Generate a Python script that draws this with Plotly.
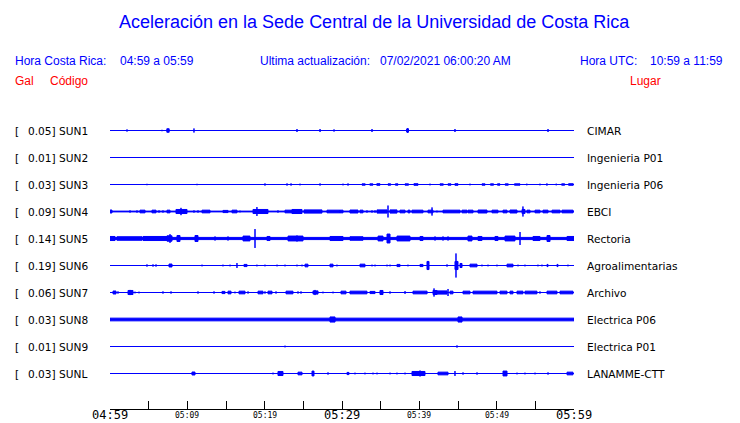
import plotly.graph_objects as go

# ---------------- data ----------------
STATIONS = ["SUN1", "SUN2", "SUN3", "SUN4", "SUN5", "SUN6", "SUN7", "SUN8", "SUN9", "SUNL"]
PEAK_GAL = ["0.05", "0.01", "0.03", "0.09", "0.14", "0.19", "0.06", "0.03", "0.01", "0.03"]
PLACES = ["CIMAR", "Ingenieria P01", "Ingenieria P06", "EBCI", "Rectoria",
          "Agroalimentarias", "Archivo", "Electrica P06", "Electrica P01", "LANAMME-CTT"]
# background noise level of every trace (normalised amplitude)
NOISE = [0, 0, 0, 0.03, 0.08, 0, 0, 0.10, 0, 0]

# minutes after 04:59 (start, end) and normalised half amplitude
SUN1_BURSTS = [(2.2, 2.2, 0.08), (6.72, 6.72, 0.05), (7.35, 7.65, 0.13), (10.86, 10.86, 0.15),
               (24.18, 24.18, 0.11), (27.16, 27.16, 0.11), (28.97, 28.97, 0.08), (33.88, 33.88, 0.11),
               (38.35, 38.6, 0.12), (38.5, 38.5, 0.18), (44.61, 44.61, 0.11), (56.64, 56.64, 0.11)]
SUN2_BURSTS = []
SUN3_BURSTS = [(4.78, 4.78, 0.05), (11.25, 11.25, 0.05), (20.04, 20.04, 0.08), (22.89, 22.89, 0.08),
               (23.41, 23.41, 0.08), (24.57, 24.57, 0.06), (27.16, 27.16, 0.08), (30.13, 30.13, 0.06),
               (30.78, 30.78, 0.08), (32.59, 33.0, 0.05), (33.6, 34.0, 0.05), (34.5, 34.91, 0.06),
               (35.95, 36.3, 0.05), (36.9, 37.24, 0.05), (38.15, 38.6, 0.05), (39.3, 39.83, 0.06),
               (41.38, 41.38, 0.06), (42.67, 43.1, 0.05), (43.7, 44.1, 0.05), (44.6, 45.0, 0.06),
               (46.55, 46.55, 0.06), (48.1, 48.5, 0.05), (49.2, 49.6, 0.05), (50.1, 50.43, 0.05),
               (51.1, 51.5, 0.05), (52.3, 53.02, 0.05), (53.9, 53.9, 0.06), (55.6, 55.6, 0.06),
               (56.5, 56.5, 0.08), (57.7, 57.7, 0.06), (58.4, 58.8, 0.05), (59.3, 59.9, 0.06)]
SUN4_BURSTS = [(0.0, 0.26, 0.11), (2.59, 2.59, 0.08), (3.49, 3.49, 0.08), (3.88, 4.53, 0.1),
               (5.43, 5.95, 0.1), (6.34, 6.34, 0.08), (6.85, 6.85, 0.08), (7.37, 7.76, 0.1),
               (8.53, 9.96, 0.15), (9.18, 9.18, 0.27), (10.86, 10.86, 0.08), (11.38, 11.38, 0.08),
               (11.9, 12.93, 0.1), (14.61, 15.26, 0.08), (15.78, 16.42, 0.1), (16.81, 16.81, 0.06),
               (18.49, 20.43, 0.15), (19.0, 19.0, 0.33), (21.72, 21.72, 0.08), (22.63, 23.53, 0.1),
               (23.53, 24.83, 0.15), (23.66, 23.66, 0.18), (25.09, 27.41, 0.12), (28.06, 29.74, 0.1),
               (29.74, 30.13, 0.1), (31.03, 32.07, 0.11), (32.33, 32.72, 0.1), (33.23, 33.23, 0.08),
               (33.88, 33.88, 0.08), (34.27, 34.27, 0.08), (34.53, 35.82, 0.12), (35.95, 35.95, 0.44),
               (36.21, 37.11, 0.12), (37.5, 38.15, 0.1), (38.53, 38.79, 0.1), (39.05, 40.47, 0.1),
               (41.12, 41.77, 0.1), (41.64, 41.64, 0.3), (42.28, 42.28, 0.06), (43.06, 45.26, 0.1),
               (45.52, 46.16, 0.1), (46.29, 46.94, 0.1), (47.59, 48.75, 0.11), (49.4, 50.17, 0.1),
               (50.82, 51.34, 0.1), (51.72, 52.63, 0.11), (53.28, 53.66, 0.15), (53.4, 53.4, 0.37),
               (53.92, 54.31, 0.1), (54.96, 55.6, 0.1), (55.99, 56.64, 0.1), (57.16, 58.19, 0.1),
               (58.45, 59.87, 0.1)]
SUN5_BURSTS = [(0.0, 0.65, 0.15), (0.9, 4.14, 0.13), (4.27, 7.37, 0.15), (7.37, 8.02, 0.2),
               (7.76, 7.76, 0.32), (8.66, 9.05, 0.22), (10.99, 11.38, 0.22), (13.58, 13.58, 0.15),
               (15.26, 15.26, 0.15), (17.2, 18.1, 0.18), (18.75, 18.75, 0.7), (20.3, 20.69, 0.15),
               (23.02, 24.96, 0.18), (24.18, 24.18, 0.22), (28.45, 29.74, 0.15), (29.74, 30.13, 0.15),
               (31.03, 32.72, 0.13), (34.66, 35.3, 0.18), (35.82, 36.21, 0.33), (37.11, 38.79, 0.18),
               (40.09, 40.47, 0.15), (42.03, 42.03, 0.15), (43.06, 43.06, 0.15), (43.71, 43.71, 0.15),
               (46.29, 46.81, 0.18), (47.59, 48.1, 0.15), (49.78, 50.17, 0.15), (51.08, 52.37, 0.18),
               (53.02, 53.02, 0.48), (54.7, 55.6, 0.15), (56.51, 56.9, 0.22), (59.1, 60.0, 0.15)]
SUN6_BURSTS = [(4.78, 4.78, 0.08), (5.56, 5.56, 0.08), (5.95, 5.95, 0.08), (7.63, 8.02, 0.11),
               (11.9, 11.9, 0.06), (14.61, 14.61, 0.06), (15.52, 15.52, 0.06), (16.42, 16.42, 0.18),
               (17.33, 17.72, 0.08), (19.0, 19.0, 0.06), (20.04, 20.04, 0.06), (21.6, 21.6, 0.06),
               (22.63, 22.63, 0.06), (24.18, 24.18, 0.06), (24.83, 24.83, 0.06), (25.22, 25.6, 0.1),
               (28.45, 28.84, 0.1), (29.35, 29.35, 0.06), (32.33, 32.97, 0.1), (33.88, 33.88, 0.06),
               (34.27, 34.27, 0.06), (35.82, 35.82, 0.06), (36.21, 36.21, 0.06), (37.11, 37.5, 0.08),
               (38.53, 38.53, 0.06), (40.09, 40.47, 0.08), (40.99, 41.25, 0.3), (43.58, 43.58, 0.08),
               (44.61, 45.0, 0.3), (44.74, 44.74, 0.89), (45.26, 45.52, 0.15), (46.55, 47.46, 0.1),
               (48.1, 48.1, 0.06), (48.88, 48.88, 0.06), (50.04, 50.04, 0.06), (51.34, 52.11, 0.1),
               (52.76, 52.76, 0.06), (53.66, 53.66, 0.06), (55.34, 55.34, 0.06), (55.86, 55.86, 0.06),
               (56.51, 56.64, 0.08), (57.8, 57.93, 0.08), (59.22, 59.22, 0.06)]
SUN7_BURSTS = [(0.39, 0.78, 0.11), (1.03, 1.03, 0.08), (2.33, 2.97, 0.15), (2.59, 2.59, 0.19),
               (3.23, 3.23, 0.06), (3.75, 3.75, 0.06), (6.85, 6.85, 0.08), (7.89, 7.89, 0.08),
               (11.38, 11.38, 0.08), (13.45, 13.45, 0.08), (14.48, 14.87, 0.08), (15.26, 15.65, 0.1),
               (16.16, 16.16, 0.06), (16.68, 17.46, 0.1), (17.85, 17.85, 0.08), (19.14, 19.78, 0.1),
               (20.04, 20.04, 0.08), (20.43, 20.95, 0.1), (21.47, 21.47, 0.08), (22.76, 23.66, 0.1),
               (24.31, 24.31, 0.08), (24.7, 24.7, 0.08), (26.25, 26.9, 0.12), (26.51, 26.51, 0.19),
               (27.54, 27.54, 0.06), (28.84, 28.84, 0.06), (29.87, 30.52, 0.1), (31.03, 33.23, 0.1),
               (33.62, 34.27, 0.08), (34.91, 35.3, 0.15), (36.21, 36.21, 0.08), (38.15, 38.15, 0.1),
               (39.18, 41.0, 0.1), (41.77, 42.28, 0.15), (41.9, 41.9, 0.3), (42.28, 43.58, 0.12),
               (43.71, 43.71, 0.26), (43.97, 44.35, 0.1), (45.65, 46.55, 0.1), (46.94, 50.04, 0.1),
               (50.43, 51.34, 0.1), (51.72, 52.11, 0.1), (52.63, 53.4, 0.1), (53.66, 55.21, 0.1),
               (55.6, 55.6, 0.08), (56.51, 57.8, 0.1), (58.19, 59.87, 0.1)]
SUN8_BURSTS = [(28.45, 29.1, 0.19), (45.0, 45.52, 0.19)]
SUN9_BURSTS = [(22.63, 22.63, 0.06), (44.87, 44.87, 0.08)]
SUNL_BURSTS = [(10.6, 10.99, 0.11), (21.08, 21.08, 0.06), (21.72, 22.37, 0.15), (24.31, 24.83, 0.1),
               (26.12, 26.38, 0.18), (28.19, 28.19, 0.08), (30.65, 30.9, 0.08), (31.68, 31.68, 0.06),
               (32.97, 32.97, 0.06), (34.01, 34.01, 0.06), (34.53, 34.53, 0.06), (36.21, 36.21, 0.06),
               (37.11, 37.11, 0.06), (38.15, 38.15, 0.06), (39.05, 40.73, 0.15), (40.09, 40.09, 0.22),
               (42.41, 43.71, 0.1), (44.61, 44.61, 0.18), (45.65, 45.65, 0.08), (47.46, 47.46, 0.08),
               (50.82, 51.34, 0.18), (52.63, 52.63, 0.06), (53.66, 53.66, 0.06), (54.96, 54.96, 0.06),
               (56.64, 56.64, 0.08), (59.1, 59.87, 0.1)]
BURSTS = [SUN1_BURSTS, SUN2_BURSTS, SUN3_BURSTS, SUN4_BURSTS, SUN5_BURSTS,
          SUN6_BURSTS, SUN7_BURSTS, SUN8_BURSTS, SUN9_BURSTS, SUNL_BURSTS]

WINDOW_MIN = 60
TICK_STEP = 5
TICK_LABELS = ["04:59", "05:09", "05:19", "05:29", "05:39", "05:49", "05:59"]
MAJOR_LABELS = ["04:59", "05:29", "05:59"]

TITLE = "Aceleración en la Sede Central de la Universidad de Costa Rica"
HORA_CR = "04:59 a 05:59"
ACTUALIZACION = "07/02/2021 06:00:20 AM"
HORA_UTC = "10:59 a 11:59"

# ---------------- figure ----------------
BLUE = "#0000ff"
RED = "#ff0000"
PAGE_MARGIN = 8            # default body margin of the html page
W, H = 740 - PAGE_MARGIN, 423 - PAGE_MARGIN
# plot area in window pixels: x 110..574, y 116..409
PL, PR, PT, PB = 110, 574, 116, 409
ML, MT = PL - PAGE_MARGIN, PT - PAGE_MARGIN
MR = W - (PR - PAGE_MARGIN)
MB = H - (PB - PAGE_MARGIN)
PW, PH = PR - PL, PB - PT
ROW_PX = 27
FIRST_ROW_PX = 130.5
HALF = 0.5  # normalised amplitude 1 -> half row spacing
TXT_PAD = 2  # annotation inner padding


def px_x(px):
    return (px - PL) / PW


def px_y(py):
    return (PB - py) / PH


fig = go.Figure()

for i, name in enumerate(STATIONS):
    yc = -i
    fig.add_trace(go.Scatter(x=[0, WINDOW_MIN], y=[yc, yc], mode="lines",
                             line=dict(color=BLUE, width=1), hoverinfo="skip", showlegend=False))
    polys_x, polys_y = [], []
    boxes = list(BURSTS[i])
    if NOISE[i] > 0:
        boxes = [(0, WINDOW_MIN, NOISE[i])] + boxes
    for t0, t1, a in boxes:
        d = a * HALF
        polys_x += [t0, t1, t1, t0, t0, None]
        polys_y += [yc - d, yc - d, yc + d, yc + d, yc - d, None]
    if polys_x:
        fig.add_trace(go.Scatter(x=polys_x, y=polys_y, mode="lines", fill="toself",
                                 fillcolor=BLUE, line=dict(color=BLUE, width=1),
                                 hoverinfo="skip", showlegend=False))

ann = []
label_font = dict(family="DejaVu Sans", size=10.6, color="black")
for i, name in enumerate(STATIONS):
    ann.append(dict(x=px_x(15 - TXT_PAD), y=-i, xref="paper", yref="y", text="[", showarrow=False,
                    xanchor="left", yanchor="middle", font=label_font))
    ann.append(dict(x=px_x(28 - TXT_PAD), y=-i, xref="paper", yref="y",
                    text=f"{PEAK_GAL[i]}] {name}",
                    showarrow=False, xanchor="left", yanchor="middle", font=label_font))
    ann.append(dict(x=px_x(587 - TXT_PAD), y=-i, xref="paper", yref="y", text=PLACES[i],
                    showarrow=False, xanchor="left", yanchor="middle", font=label_font))

for k, lab in enumerate(TICK_LABELS):
    big = lab in MAJOR_LABELS
    ann.append(dict(x=k * 2 * TICK_STEP, y=px_y(415), xref="x", yref="paper", text=lab,
                    showarrow=False, xanchor="center", yanchor="middle",
                    font=dict(family="DejaVu Sans Mono", size=12 if big else 8, color="black")))

hdr_font = dict(family="Liberation Sans", size=12, color=BLUE)
red_font = dict(family="Liberation Sans", size=12, color=RED)
for px, txt in [(15, "Hora Costa Rica:"), (120, HORA_CR), (260, "Ultima actualización:"),
                (380, ACTUALIZACION), (580, "Hora UTC:"), (650, HORA_UTC)]:
    ann.append(dict(x=px_x(px - TXT_PAD), y=px_y(61), xref="paper", yref="paper", text=txt,
                    showarrow=False, xanchor="left", yanchor="middle", font=hdr_font))
for px, txt in [(15, "Gal"), (50, "Código"), (630, "Lugar")]:
    ann.append(dict(x=px_x(px - TXT_PAD), y=px_y(81), xref="paper", yref="paper", text=txt,
                    showarrow=False, xanchor="left", yanchor="middle", font=red_font))
ann.append(dict(x=px_x(374), y=px_y(22), xref="paper", yref="paper", text=TITLE, showarrow=False,
                xanchor="center", yanchor="middle",
                font=dict(family="Liberation Sans", size=18, color=BLUE)))

top_val = (FIRST_ROW_PX - PT) / ROW_PX
bot_val = -(PB - FIRST_ROW_PX) / ROW_PX

fig.update_layout(
    width=W, height=H, margin=dict(l=ML, r=MR, t=MT, b=MB),
    paper_bgcolor="white", plot_bgcolor="white", showlegend=False,
    annotations=ann,
    xaxis=dict(range=[0, WINDOW_MIN], tickvals=list(range(0, WINDOW_MIN + 1, TICK_STEP)),
               showticklabels=False, ticks="inside", ticklen=8, tickcolor="black", tickwidth=1,
               showline=True, linecolor="black", linewidth=1, showgrid=False, zeroline=False,
               fixedrange=True),
    yaxis=dict(range=[bot_val, top_val], visible=False, fixedrange=True),
)

fig.write_html("out.html", config={"displayModeBar": False})
